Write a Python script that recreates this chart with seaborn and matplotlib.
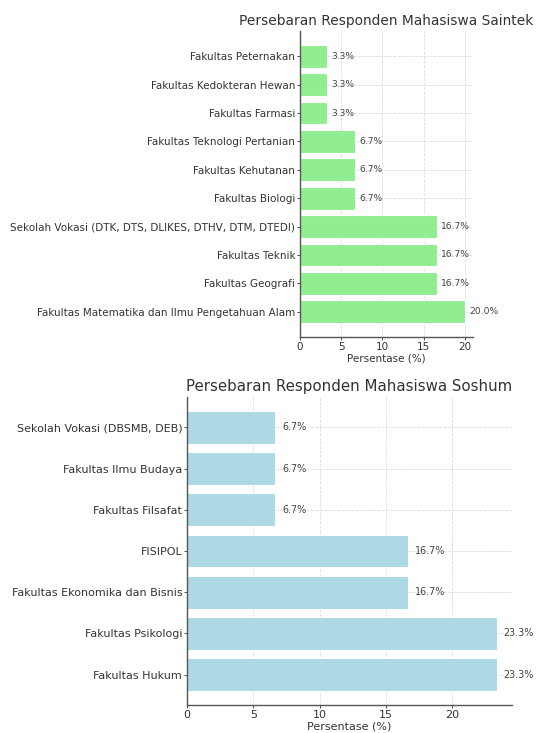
import matplotlib
matplotlib.use("Agg")
import matplotlib.pyplot as plt
import seaborn as sns
import pandas as pd

saintek_fakultas = [
    "Fakultas Peternakan",
    "Fakultas Kedokteran Hewan",
    "Fakultas Farmasi",
    "Fakultas Teknologi Pertanian",
    "Fakultas Kehutanan",
    "Fakultas Biologi",
    "Sekolah Vokasi (DTK, DTS, DLIKES, DTHV, DTM, DTEDI)",
    "Fakultas Teknik",
    "Fakultas Geografi",
    "Fakultas Matematika dan Ilmu Pengetahuan Alam",
]
saintek_persen = [3.33, 3.33, 3.33, 6.67, 6.67, 6.67, 16.67, 16.67, 16.67, 20.0]

soshum_fakultas = [
    "Sekolah Vokasi (DBSMB, DEB)",
    "Fakultas Ilmu Budaya",
    "Fakultas Filsafat",
    "FISIPOL",
    "Fakultas Ekonomika dan Bisnis",
    "Fakultas Psikologi",
    "Fakultas Hukum",
]
soshum_persen = [6.67, 6.67, 6.67, 16.67, 16.67, 23.33, 23.33]

sns.set_theme(style="whitegrid")
plt.rcParams.update({
    "font.family": ["DejaVu Sans"],
    "grid.linestyle": "--",
    "grid.color": "#dddddd",
    "grid.linewidth": 0.6,
    "axes.edgecolor": "#555555",
    "text.color": "#333333",
    "axes.labelcolor": "#333333",
    "xtick.color": "#333333",
    "ytick.color": "#333333",
})


def plot_bars(ax, labels, values, color, title, tick_size, title_size, val_size):
    df = pd.DataFrame({"Fakultas": labels, "Persen": values})
    sns.barplot(data=df, x="Persen", y="Fakultas", color=color, saturation=1,
                edgecolor="white", linewidth=0.8, width=0.8, ax=ax)
    for i, v in enumerate(values):
        ax.text(v + 0.5, i, f"{v:.1f}%", va="center", ha="left",
                fontsize=val_size, color="#444444")
    ax.set_title(title, fontsize=title_size, color="#333333", pad=4)
    ax.set_xlabel("Persentase (%)", fontsize=tick_size, labelpad=1)
    ax.set_ylabel("")
    ax.tick_params(axis="both", labelsize=tick_size, length=2.5, width=0.6,
                   pad=1, left=True, bottom=True)
    # matplotlib-style margins around the bars
    n = len(values)
    pad = 0.4 + 0.05 * (n - 0.2)
    ax.set_ylim(n - 1 + pad, -pad)
    ax.set_xlim(0, max(values) * 1.05)
    ax.grid(True, axis="both")
    ax.set_axisbelow(True)
    sns.despine(ax=ax)
    for s in ["left", "bottom"]:
        ax.spines[s].set_linewidth(1.0)


fig = plt.figure(figsize=(5.36, 7.33), dpi=100)
ax1 = fig.add_axes([300 / 536, 1 - 337 / 733, 173 / 536, 306 / 733])
ax2 = fig.add_axes([187 / 536, 1 - 705 / 733, 325 / 536, 308 / 733])

plot_bars(ax1, saintek_fakultas, saintek_persen, "lightgreen",
          "Persebaran Responden Mahasiswa Saintek", 7.45, 9.9, 6.6)
plot_bars(ax2, soshum_fakultas, soshum_persen, "lightblue",
          "Persebaran Responden Mahasiswa Soshum", 8.0, 10.8, 6.9)

fig.savefig("out.png", dpi=100)
